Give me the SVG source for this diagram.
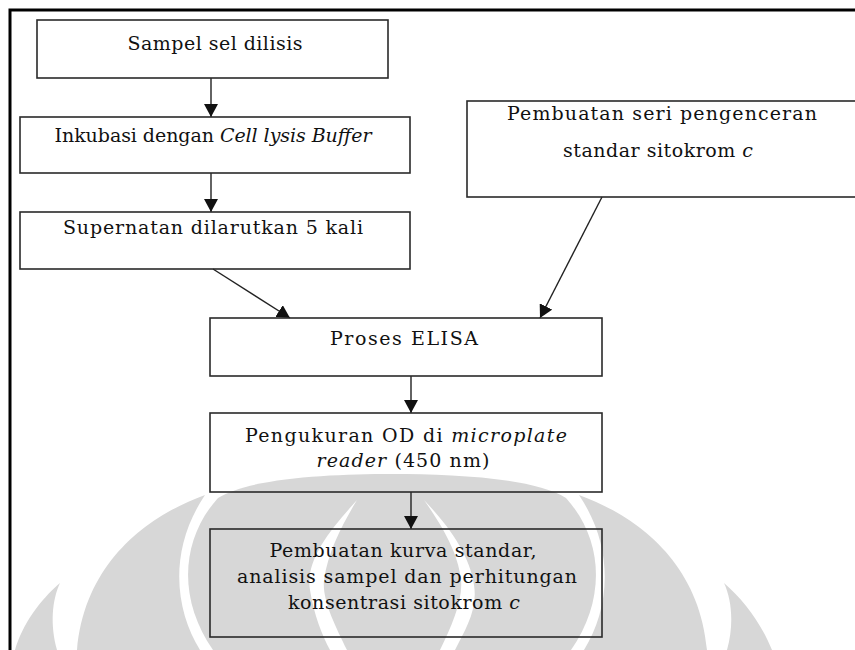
<svg xmlns="http://www.w3.org/2000/svg" width="855" height="650" viewBox="0 0 855 650">
<style>
.wm{fill:#d7d7d7;stroke:none}
.gap{fill:#ffffff;stroke:none}
.box{fill:none;stroke:#2a2a2a;stroke-width:1.6}
.t{font-family:"DejaVu Serif","Liberation Serif",serif;font-size:19px;fill:#111;text-anchor:middle}
.i{font-style:italic}
.c{stroke:#222;stroke-width:1.4;fill:none}
.frame{stroke:#000;stroke-width:3;fill:none}
</style>
<defs>
<marker id="ah" markerUnits="userSpaceOnUse" markerWidth="14" markerHeight="14" viewBox="0 0 14 14" refX="13" refY="7" orient="auto">
<path d="M0,0 L13,7 L0,14 Z" fill="#111"/>
</marker>
</defs>
<rect x="0" y="0" width="855" height="650" fill="#ffffff"/>
<g id="watermark">
<path class="wm" d="M60,583 C40,600 22,625 15,650 L57,650 C50,625 52,600 60,583 Z"/>
<path class="wm" d="M205,495 C150,515 85,560 77,650 L200,650 C175,610 168,550 205,495 Z"/>
<path class="wm" d="M213,650 C178,600 180,540 218,498 C250,478 330,474 392,474 C454,474 534,478 566,498 C604,540 606,600 571,650 Z"/>
<path class="gap" d="M357,500 C330,530 305,560 310,590 C314,615 322,635 330,650 L347,650 C335,625 322,600 324,580 C328,550 345,520 357,500 Z"/>
<path class="gap" d="M424,500 C438,520 458,550 461,580 C463,600 452,625 440,650 L455,650 C465,630 478,610 474,585 C470,555 448,525 424,500 Z"/>
<path class="wm" d="M579,495 C634,515 699,560 707,650 L584,650 C609,610 616,550 579,495 Z"/>
<path class="wm" d="M724,583 C744,600 762,625 772,650 L727,650 C734,625 732,600 724,583 Z"/>
</g>
<g id="frame">
<path class="frame" d="M10,650 L10,10 L855,10"/>
</g>
<g id="connectors">
<line class="c" x1="211" y1="78" x2="211" y2="117" marker-end="url(#ah)"/>
<line class="c" x1="211" y1="173" x2="211" y2="212" marker-end="url(#ah)"/>
<line class="c" x1="213" y1="269" x2="290" y2="318" marker-end="url(#ah)"/>
<line class="c" x1="602" y1="197" x2="540" y2="318" marker-end="url(#ah)"/>
<line class="c" x1="411" y1="376" x2="411" y2="413" marker-end="url(#ah)"/>
<line class="c" x1="411" y1="492" x2="411" y2="529" marker-end="url(#ah)"/>
</g>
<g id="n1">
<rect class="box" x="37" y="20" width="351" height="58"/>
<text class="t" x="215" y="50" textLength="175" lengthAdjust="spacing">Sampel sel dilisis</text>
</g>
<g id="n2">
<rect class="box" x="20" y="117" width="390" height="56"/>
<text class="t" x="213" y="142" textLength="317" lengthAdjust="spacing">Inkubasi dengan <tspan class="i">Cell lysis Buffer</tspan></text>
</g>
<g id="n3">
<rect class="box" x="20" y="212" width="390" height="57"/>
<text class="t" x="213" y="234" textLength="300" lengthAdjust="spacing">Supernatan dilarutkan 5 kali</text>
</g>
<g id="n4">
<rect class="box" x="467" y="101" width="395" height="96"/>
<text class="t" x="662" y="120" textLength="310" lengthAdjust="spacing">Pembuatan seri pengenceran</text>
<text class="t" x="658" y="157" textLength="190" lengthAdjust="spacing">standar sitokrom <tspan class="i">c</tspan></text>
</g>
<g id="n5">
<rect class="box" x="210" y="318" width="392" height="58"/>
<text class="t" x="404" y="345" textLength="148" lengthAdjust="spacing">Proses ELISA</text>
</g>
<g id="n6">
<rect class="box" x="210" y="413" width="392" height="79"/>
<text class="t" x="406" y="442" textLength="322" lengthAdjust="spacing">Pengukuran OD di <tspan class="i">microplate</tspan></text>
<text class="t" x="403" y="467" textLength="173" lengthAdjust="spacing"><tspan class="i">reader</tspan> (450 nm)</text>
</g>
<g id="n7">
<rect class="box" x="210" y="529" width="392" height="108"/>
<text class="t" x="403" y="557" textLength="267" lengthAdjust="spacing">Pembuatan kurva standar,</text>
<text class="t" x="407" y="583" textLength="340" lengthAdjust="spacing">analisis sampel dan perhitungan</text>
<text class="t" x="404" y="609" textLength="232" lengthAdjust="spacing">konsentrasi sitokrom <tspan class="i">c</tspan></text>
</g>
</svg>
